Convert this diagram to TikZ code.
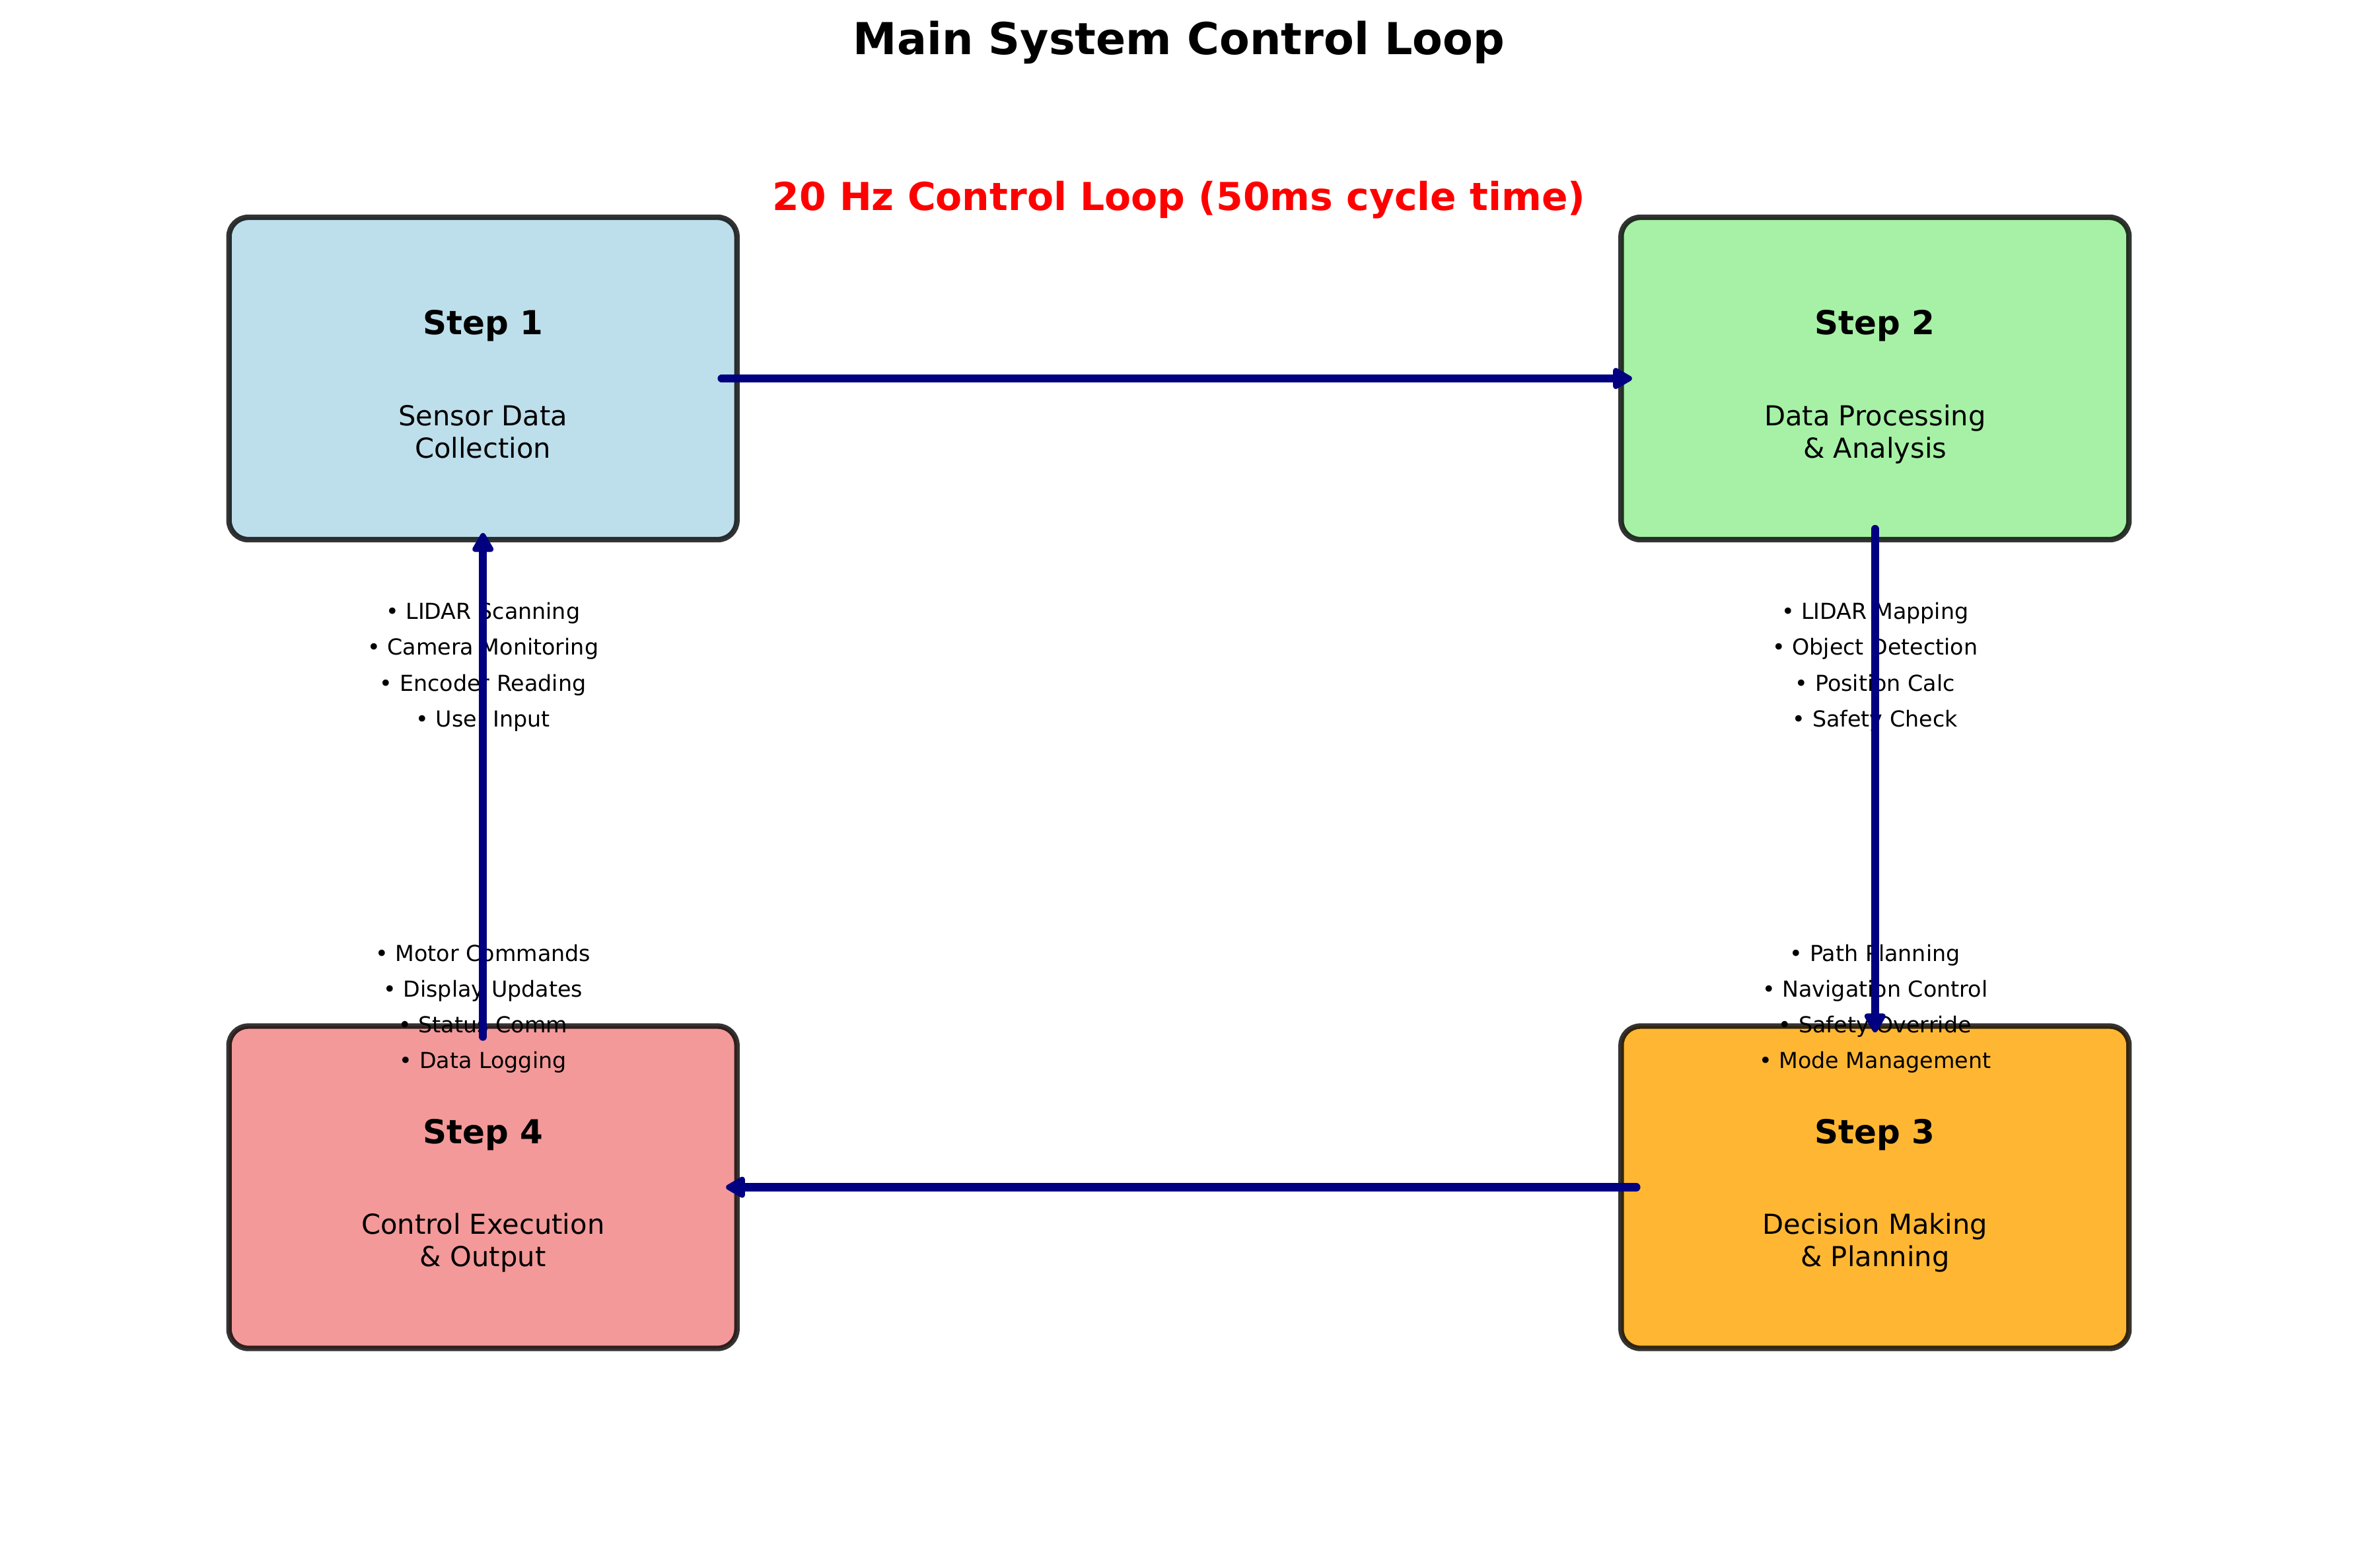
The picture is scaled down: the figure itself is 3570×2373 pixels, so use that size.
\documentclass[tikz,border=0pt]{standalone}
\usepackage{fontspec}
\setmainfont{DejaVu Sans}
\usetikzlibrary{arrows.meta,calc}
\definecolor{boxblue}{RGB}{173,216,230}
\definecolor{boxgreen}{RGB}{144,238,144}
\definecolor{boxorange}{RGB}{255,165,0}
\definecolor{boxcoral}{RGB}{240,128,128}
\definecolor{arrownavy}{RGB}{0,0,128}
\definecolor{loopred}{RGB}{255,0,0}
\begin{document}
\begin{tikzpicture}[x=0.24pt,y=-0.24pt,
  stepbox/.style={draw=black, draw opacity=0.8, fill opacity=0.8, line width=2pt, rounded corners=7pt, minimum width=184.56pt, minimum height=117.12pt, inner sep=0pt, outer sep=0pt},
  steplabel/.style={anchor=base, inner sep=0pt, font=\fontsize{12}{14}\selectfont\bfseries},
  desclabel/.style={anchor=base, inner sep=0pt, font=\fontsize{10}{12}\selectfont},
  bulletlabel/.style={anchor=base, inner sep=0pt, font=\fontsize{8}{10}\selectfont},
  flowarrow/.style={draw=arrownavy, line width=3pt, line cap=round, -{Triangle[length=8pt,width=8.5pt,round]}},
]
\fill[white] (0,0) rectangle (3570,2373);
\useasboundingbox (0,0) rectangle (3570,2373);

% title
\node[anchor=base, inner sep=0pt, font=\fontsize{16}{19}\selectfont\bfseries] (title) at (1785,82) {Main System Control Loop};
\node[anchor=base, inner sep=0pt, text=loopred, font=\fontsize{14}{17}\selectfont\bfseries] (rate) at (1785,318) {20 Hz Control Loop (50ms cycle time)};

% boxes
\node[stepbox, fill=boxblue] (b1) at (731.2,573) {};
\node[stepbox, fill=boxgreen] (b2) at (2838.8,573) {};
\node[stepbox, fill=boxorange] (b3) at (2838.8,1797.5) {};
\node[stepbox, fill=boxcoral] (b4) at (731.2,1797.5) {};

% box texts
\node[steplabel] (s1) at ($(b1.center)+(0,-66.3)$) {Step 1};
\node[desclabel] (d1a) at ($(b1.center)+(0,71.4)$) {Sensor Data};
\node[desclabel] (d1b) at ($(b1.center)+(0,120)$) {Collection};

\node[steplabel] (s2) at ($(b2.center)+(0,-66.3)$) {Step 2};
\node[desclabel] (d2a) at ($(b2.center)+(0,71.4)$) {Data Processing};
\node[desclabel] (d2b) at ($(b2.center)+(0,120)$) {\& Analysis};

\node[steplabel] (s3) at ($(b3.center)+(0,-66.3)$) {Step 3};
\node[desclabel] (d3a) at ($(b3.center)+(0,71.4)$) {Decision Making};
\node[desclabel] (d3b) at ($(b3.center)+(0,120)$) {\& Planning};

\node[steplabel] (s4) at ($(b4.center)+(0,-66.3)$) {Step 4};
\node[desclabel] (d4a) at ($(b4.center)+(0,71.4)$) {Control Execution};
\node[desclabel] (d4b) at ($(b4.center)+(0,120)$) {\& Output};

% bullets
\node[bulletlabel] (l1a) at ($(b1.center)+(0,364)$) {• LIDAR Scanning};
\node[bulletlabel] (l1b) at ($(b1.center)+(0,418.5)$) {• Camera Monitoring};
\node[bulletlabel] (l1c) at ($(b1.center)+(0,473)$) {• Encoder Reading};
\node[bulletlabel] (l1d) at ($(b1.center)+(0,527.5)$) {• User Input};

\node[bulletlabel] (l2a) at ($(b2.center)+(0,364)$) {• LIDAR Mapping};
\node[bulletlabel] (l2b) at ($(b2.center)+(0,418.5)$) {• Object Detection};
\node[bulletlabel] (l2c) at ($(b2.center)+(0,473)$) {• Position Calc};
\node[bulletlabel] (l2d) at ($(b2.center)+(0,527.5)$) {• Safety Check};

\node[bulletlabel] (l3a) at ($(b3.center)+(0,-342.5)$) {• Path Planning};
\node[bulletlabel] (l3b) at ($(b3.center)+(0,-288.5)$) {• Navigation Control};
\node[bulletlabel] (l3c) at ($(b3.center)+(0,-234.5)$) {• Safety Override};
\node[bulletlabel] (l3d) at ($(b3.center)+(0,-180.5)$) {• Mode Management};

\node[bulletlabel] (l4a) at ($(b4.center)+(0,-342.5)$) {• Motor Commands};
\node[bulletlabel] (l4b) at ($(b4.center)+(0,-288.5)$) {• Display Updates};
\node[bulletlabel] (l4c) at ($(b4.center)+(0,-234.5)$) {• Status Comm};
\node[bulletlabel] (l4d) at ($(b4.center)+(0,-180.5)$) {• Data Logging};

% arrows
\draw[flowarrow] ($(b1.east)+(-23,0)$) -- ($(b2.west)+(16.5,0)$);
\draw[flowarrow] ($(b2.south)+(0,-16)$) -- ($(b3.north)+(0,9.5)$);
\draw[flowarrow] ($(b3.west)+(23,0)$) -- ($(b4.east)+(-16.5,0)$);
\draw[flowarrow] ($(b4.north)+(0,16)$) -- ($(b1.south)+(0,-10)$);
\end{tikzpicture}
\end{document}
